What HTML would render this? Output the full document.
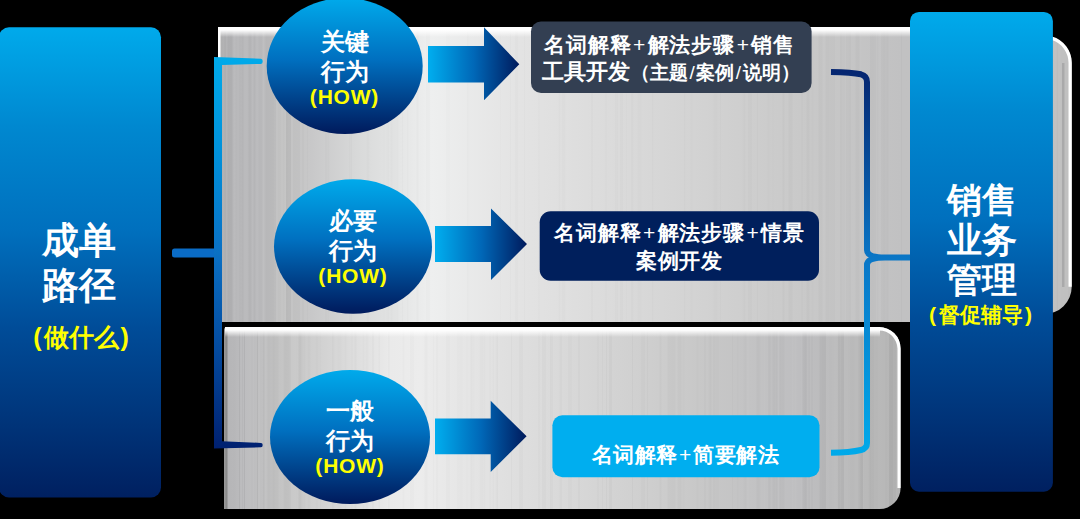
<!DOCTYPE html>
<html><head><meta charset="utf-8">
<style>
html,body{margin:0;padding:0;background:#000;}
body{width:1080px;height:519px;position:relative;overflow:hidden;font-family:"Liberation Sans",sans-serif;}
svg{position:absolute;left:0;top:0;}
.t{position:absolute;color:#fff;font-weight:bold;text-align:center;white-space:nowrap;}
.y{color:#ffff00;}
.c24{font-size:24px;line-height:30px;}
.how{font-size:21px;line-height:24px;letter-spacing:0.8px;}
.p{margin:0 2px;}
.p2{margin:0 2.5px;}
.pl{margin:0 1.5px;font-weight:normal;}
.sl{margin:0 1.5px;font-weight:normal;}
</style></head><body>
<svg width="1080" height="519" viewBox="0 0 1080 519">
<defs>
  <linearGradient id="gBox" x1="0" y1="0" x2="0" y2="1">
    <stop offset="0" stop-color="#00aaeb"/>
    <stop offset="0.21" stop-color="#0088d0"/>
    <stop offset="0.43" stop-color="#0070be"/>
    <stop offset="0.64" stop-color="#004c98"/>
    <stop offset="0.85" stop-color="#003378"/>
    <stop offset="1" stop-color="#002060"/>
  </linearGradient>
  <linearGradient id="gEl" x1="0" y1="0" x2="0" y2="1">
    <stop offset="0" stop-color="#00aaeb"/>
    <stop offset="0.45" stop-color="#0070c0"/>
    <stop offset="1" stop-color="#001a5c"/>
  </linearGradient>
  <linearGradient id="gAr" x1="0" y1="0" x2="1" y2="0">
    <stop offset="0" stop-color="#00aeef"/>
    <stop offset="0.5" stop-color="#0068b8"/>
    <stop offset="1" stop-color="#001a5c"/>
  </linearGradient>
  <linearGradient id="gGray" gradientUnits="userSpaceOnUse" x1="218" y1="0" x2="1072" y2="0">
    <stop offset="0" stop-color="#acacac"/>
    <stop offset="0.01" stop-color="#b6b6b8"/>
    <stop offset="0.05" stop-color="#bcbcbe"/>
    <stop offset="0.075" stop-color="#c2c2c2"/>
    <stop offset="0.11" stop-color="#c8c8c9"/>
    <stop offset="0.167" stop-color="#d9dada"/>
    <stop offset="0.25" stop-color="#eeefef"/>
    <stop offset="0.354" stop-color="#e3e3e3"/>
    <stop offset="0.495" stop-color="#d8d8d8"/>
    <stop offset="0.682" stop-color="#c9c9c9"/>
    <stop offset="0.80" stop-color="#c1c1c2"/>
    <stop offset="1" stop-color="#c0c0c0"/>
  </linearGradient>
  <linearGradient id="gGray2" gradientUnits="userSpaceOnUse" x1="224" y1="0" x2="901" y2="0">
    <stop offset="0" stop-color="#a0a0a0"/>
    <stop offset="0.004" stop-color="#909090"/>
    <stop offset="0.006" stop-color="#b4b4b6"/>
    <stop offset="0.03" stop-color="#bbbbbd"/>
    <stop offset="0.084" stop-color="#c4c4c4"/>
    <stop offset="0.172" stop-color="#d8d8d8"/>
    <stop offset="0.245" stop-color="#eaeaea"/>
    <stop offset="0.29" stop-color="#ececec"/>
    <stop offset="0.41" stop-color="#e0e0e0"/>
    <stop offset="0.585" stop-color="#d2d2d2"/>
    <stop offset="0.70" stop-color="#c8c8c8"/>
    <stop offset="0.85" stop-color="#bebec0"/>
    <stop offset="0.95" stop-color="#b8b8b8"/>
    <stop offset="1" stop-color="#b4b4b4"/>
  </linearGradient>
  <linearGradient id="gHi" x1="0" y1="0" x2="0" y2="1">
    <stop offset="0" stop-color="#ffffff" stop-opacity="1"/>
    <stop offset="1" stop-color="#ffffff" stop-opacity="0"/>
  </linearGradient>
  <linearGradient id="gBrL" gradientUnits="userSpaceOnUse" x1="0" y1="57" x2="0" y2="449">
    <stop offset="0" stop-color="#00aaea"/>
    <stop offset="0.25" stop-color="#0090da"/>
    <stop offset="0.5" stop-color="#0a70c4"/>
    <stop offset="0.75" stop-color="#044a9e"/>
    <stop offset="1" stop-color="#002070"/>
  </linearGradient>
  <linearGradient id="gBrR" gradientUnits="userSpaceOnUse" x1="0" y1="70" x2="0" y2="456">
    <stop offset="0" stop-color="#052570"/>
    <stop offset="0.5" stop-color="#0a78c8"/>
    <stop offset="1" stop-color="#00aaea"/>
  </linearGradient>
  <clipPath id="clipTop"><path d="M218 27 H1044 V36.2 A27.2 27.2 0 0 1 1071.7 63.2 V286.8 A27.2 27.2 0 0 1 1044 314 V322 H218 Z"/></clipPath>
  <clipPath id="clipBot"><path d="M227 327 H879 A21.6 21.6 0 0 1 900.6 348.6 V488 A21 21 0 0 1 879.6 509 H224 V330 A3 3 0 0 1 227 327 Z"/></clipPath>
</defs>

<!-- left box -->
<rect x="-1" y="27.2" width="162" height="470.3" rx="10" fill="url(#gBox)"/>

<!-- top gray panel -->
<path d="M218 27 H1044 V36.2 A27.2 27.2 0 0 1 1071.7 63.2 V286.8 A27.2 27.2 0 0 1 1044 314 V322 H218 Z" fill="url(#gGray)"/>
<g clip-path="url(#clipTop)">
<rect x="218" y="27" width="1.5" height="295" fill="#fff" opacity="0.045"/>
<rect x="219.5" y="27" width="2" height="295" fill="#fff" opacity="0.015"/>
<rect x="221.5" y="27" width="1" height="295" fill="#fff" opacity="0.032"/>
<rect x="222.5" y="27" width="1" height="295" fill="#000" opacity="0.013"/>
<rect x="223.5" y="27" width="1" height="295" fill="#fff" opacity="0.041"/>
<rect x="224.5" y="27" width="1" height="295" fill="#000" opacity="0.046"/>
<rect x="225.5" y="27" width="2" height="295" fill="#000" opacity="0.008"/>
<rect x="227.5" y="27" width="1" height="295" fill="#000" opacity="0.041"/>
<rect x="228.5" y="27" width="2" height="295" fill="#000" opacity="0.044"/>
<rect x="230.5" y="27" width="2" height="295" fill="#000" opacity="0.038"/>
<rect x="232.5" y="27" width="1" height="295" fill="#fff" opacity="0.013"/>
<rect x="233.5" y="27" width="2" height="295" fill="#fff" opacity="0.045"/>
<rect x="235.5" y="27" width="2" height="295" fill="#fff" opacity="0.009"/>
<rect x="237.5" y="27" width="1" height="295" fill="#fff" opacity="0.048"/>
<rect x="239.5" y="27" width="1" height="295" fill="#000" opacity="0.021"/>
<rect x="241.5" y="27" width="2" height="295" fill="#000" opacity="0.019"/>
<rect x="243.5" y="27" width="4" height="295" fill="#fff" opacity="0.018"/>
<rect x="247.5" y="27" width="1" height="295" fill="#fff" opacity="0.008"/>
<rect x="248.5" y="27" width="3" height="295" fill="#000" opacity="0.031"/>
<rect x="253.5" y="27" width="2" height="295" fill="#000" opacity="0.029"/>
<rect x="258.5" y="27" width="4" height="295" fill="#000" opacity="0.019"/>
<rect x="262.5" y="27" width="2" height="295" fill="#fff" opacity="0.042"/>
<rect x="264.5" y="27" width="1.5" height="295" fill="#000" opacity="0.020"/>
<rect x="266" y="27" width="4" height="295" fill="#000" opacity="0.032"/>
<rect x="270" y="27" width="4" height="295" fill="#000" opacity="0.026"/>
<rect x="274" y="27" width="2" height="295" fill="#000" opacity="0.020"/>
<rect x="276" y="27" width="2" height="295" fill="#fff" opacity="0.038"/>
<rect x="281" y="27" width="2" height="295" fill="#fff" opacity="0.048"/>
<rect x="284" y="27" width="1" height="295" fill="#fff" opacity="0.026"/>
<rect x="285" y="27" width="1" height="295" fill="#fff" opacity="0.043"/>
<rect x="286" y="27" width="2" height="295" fill="#000" opacity="0.046"/>
<rect x="288" y="27" width="3" height="295" fill="#000" opacity="0.042"/>
<rect x="293" y="27" width="4" height="295" fill="#000" opacity="0.019"/>
<rect x="297" y="27" width="3" height="295" fill="#000" opacity="0.015"/>
<rect x="302" y="27" width="2" height="295" fill="#000" opacity="0.013"/>
<rect x="304" y="27" width="1" height="295" fill="#fff" opacity="0.013"/>
<rect x="307" y="27" width="1" height="295" fill="#000" opacity="0.013"/>
<rect x="311" y="27" width="2" height="295" fill="#fff" opacity="0.015"/>
<rect x="325" y="27" width="2" height="295" fill="#000" opacity="0.011"/>
<rect x="327" y="27" width="1" height="295" fill="#000" opacity="0.008"/>
<rect x="328" y="27" width="1.5" height="295" fill="#000" opacity="0.011"/>
<rect x="337.5" y="27" width="1" height="295" fill="#fff" opacity="0.010"/>
<rect x="347" y="27" width="2" height="295" fill="#fff" opacity="0.014"/>
<rect x="349" y="27" width="1" height="295" fill="#000" opacity="0.013"/>
<rect x="350" y="27" width="1" height="295" fill="#000" opacity="0.008"/>
<rect x="351" y="27" width="1" height="295" fill="#000" opacity="0.015"/>
<rect x="360" y="27" width="1.5" height="295" fill="#fff" opacity="0.014"/>
<rect x="361.5" y="27" width="3" height="295" fill="#fff" opacity="0.011"/>
<rect x="366.5" y="27" width="3" height="295" fill="#000" opacity="0.013"/>
<rect x="369.5" y="27" width="4" height="295" fill="#fff" opacity="0.008"/>
<rect x="383.5" y="27" width="1" height="295" fill="#000" opacity="0.009"/>
<rect x="386.5" y="27" width="1" height="295" fill="#000" opacity="0.012"/>
<rect x="387.5" y="27" width="2" height="295" fill="#000" opacity="0.010"/>
<rect x="389.5" y="27" width="1" height="295" fill="#fff" opacity="0.013"/>
<rect x="390.5" y="27" width="2" height="295" fill="#000" opacity="0.014"/>
<rect x="392.5" y="27" width="4" height="295" fill="#000" opacity="0.009"/>
<rect x="396.5" y="27" width="2" height="295" fill="#000" opacity="0.011"/>
<rect x="398.5" y="27" width="1.5" height="295" fill="#fff" opacity="0.014"/>
<rect x="402" y="27" width="1" height="295" fill="#000" opacity="0.012"/>
<rect x="403" y="27" width="2" height="295" fill="#fff" opacity="0.015"/>
<rect x="407" y="27" width="1.5" height="295" fill="#000" opacity="0.012"/>
<rect x="416.5" y="27" width="2" height="295" fill="#000" opacity="0.014"/>
<rect x="424.5" y="27" width="1.5" height="295" fill="#fff" opacity="0.014"/>
<rect x="426" y="27" width="4" height="295" fill="#000" opacity="0.012"/>
<rect x="434" y="27" width="1.5" height="295" fill="#fff" opacity="0.012"/>
<rect x="435.5" y="27" width="1.5" height="295" fill="#fff" opacity="0.008"/>
<rect x="442" y="27" width="4" height="295" fill="#fff" opacity="0.015"/>
<rect x="446" y="27" width="4" height="295" fill="#000" opacity="0.009"/>
<rect x="450" y="27" width="1" height="295" fill="#fff" opacity="0.010"/>
<rect x="451" y="27" width="3" height="295" fill="#fff" opacity="0.009"/>
<rect x="456.5" y="27" width="1" height="295" fill="#fff" opacity="0.009"/>
<rect x="464" y="27" width="3" height="295" fill="#fff" opacity="0.015"/>
<rect x="467" y="27" width="1.5" height="295" fill="#000" opacity="0.013"/>
<rect x="468.5" y="27" width="1" height="295" fill="#000" opacity="0.008"/>
<rect x="472.5" y="27" width="2" height="295" fill="#fff" opacity="0.010"/>
<rect x="474.5" y="27" width="2" height="295" fill="#fff" opacity="0.012"/>
<rect x="476.5" y="27" width="1.5" height="295" fill="#fff" opacity="0.009"/>
<rect x="478" y="27" width="1" height="295" fill="#fff" opacity="0.010"/>
<rect x="479" y="27" width="1" height="295" fill="#fff" opacity="0.012"/>
<rect x="489" y="27" width="4" height="295" fill="#fff" opacity="0.011"/>
<rect x="499" y="27" width="1" height="295" fill="#fff" opacity="0.012"/>
<rect x="500" y="27" width="1" height="295" fill="#000" opacity="0.008"/>
<rect x="504" y="27" width="2" height="295" fill="#fff" opacity="0.012"/>
<rect x="506" y="27" width="3" height="295" fill="#fff" opacity="0.010"/>
<rect x="510" y="27" width="1" height="295" fill="#000" opacity="0.011"/>
<rect x="511" y="27" width="4" height="295" fill="#fff" opacity="0.011"/>
<rect x="515" y="27" width="3" height="295" fill="#000" opacity="0.010"/>
<rect x="518" y="27" width="3" height="295" fill="#fff" opacity="0.010"/>
<rect x="521" y="27" width="2" height="295" fill="#fff" opacity="0.012"/>
<rect x="524" y="27" width="1" height="295" fill="#000" opacity="0.011"/>
<rect x="528.5" y="27" width="2" height="295" fill="#fff" opacity="0.008"/>
<rect x="530.5" y="27" width="1" height="295" fill="#fff" opacity="0.010"/>
<rect x="531.5" y="27" width="1.5" height="295" fill="#fff" opacity="0.010"/>
<rect x="538" y="27" width="2" height="295" fill="#000" opacity="0.009"/>
<rect x="541" y="27" width="1" height="295" fill="#fff" opacity="0.009"/>
<rect x="558.5" y="27" width="2" height="295" fill="#000" opacity="0.011"/>
<rect x="561.5" y="27" width="4" height="295" fill="#000" opacity="0.010"/>
<rect x="567.5" y="27" width="4" height="295" fill="#fff" opacity="0.009"/>
<rect x="572.5" y="27" width="2" height="295" fill="#fff" opacity="0.011"/>
<rect x="584.5" y="27" width="1.5" height="295" fill="#fff" opacity="0.010"/>
<rect x="586" y="27" width="1" height="295" fill="#fff" opacity="0.008"/>
<rect x="591" y="27" width="2" height="295" fill="#000" opacity="0.010"/>
<rect x="596" y="27" width="1" height="295" fill="#fff" opacity="0.010"/>
<rect x="597" y="27" width="1" height="295" fill="#fff" opacity="0.011"/>
<rect x="602" y="27" width="1" height="295" fill="#fff" opacity="0.011"/>
<rect x="605" y="27" width="2" height="295" fill="#000" opacity="0.008"/>
<rect x="615" y="27" width="1.5" height="295" fill="#000" opacity="0.010"/>
<rect x="616.5" y="27" width="1.5" height="295" fill="#000" opacity="0.012"/>
<rect x="620" y="27" width="3" height="295" fill="#000" opacity="0.012"/>
<rect x="626" y="27" width="1" height="295" fill="#000" opacity="0.009"/>
<rect x="631" y="27" width="1" height="295" fill="#000" opacity="0.010"/>
<rect x="632" y="27" width="1.5" height="295" fill="#000" opacity="0.011"/>
<rect x="637.5" y="27" width="4" height="295" fill="#000" opacity="0.009"/>
<rect x="641.5" y="27" width="2" height="295" fill="#fff" opacity="0.008"/>
<rect x="648" y="27" width="2" height="295" fill="#fff" opacity="0.010"/>
<rect x="652" y="27" width="1.5" height="295" fill="#000" opacity="0.010"/>
<rect x="661.5" y="27" width="2" height="295" fill="#fff" opacity="0.009"/>
<rect x="665.5" y="27" width="1.5" height="295" fill="#fff" opacity="0.012"/>
<rect x="667" y="27" width="2" height="295" fill="#fff" opacity="0.010"/>
<rect x="671.5" y="27" width="1" height="295" fill="#fff" opacity="0.011"/>
<rect x="684" y="27" width="1.5" height="295" fill="#000" opacity="0.011"/>
<rect x="686.5" y="27" width="2" height="295" fill="#fff" opacity="0.011"/>
<rect x="690.5" y="27" width="2" height="295" fill="#000" opacity="0.009"/>
<rect x="699.5" y="27" width="4" height="295" fill="#fff" opacity="0.009"/>
<rect x="705.5" y="27" width="1" height="295" fill="#fff" opacity="0.012"/>
<rect x="712" y="27" width="1.5" height="295" fill="#fff" opacity="0.012"/>
<rect x="713.5" y="27" width="4" height="295" fill="#000" opacity="0.009"/>
<rect x="720" y="27" width="1" height="295" fill="#000" opacity="0.010"/>
<rect x="736.5" y="27" width="1.5" height="295" fill="#fff" opacity="0.011"/>
<rect x="740" y="27" width="1" height="295" fill="#fff" opacity="0.011"/>
<rect x="742.5" y="27" width="1" height="295" fill="#000" opacity="0.012"/>
<rect x="743.5" y="27" width="2" height="295" fill="#000" opacity="0.010"/>
<rect x="748" y="27" width="4" height="295" fill="#000" opacity="0.012"/>
<rect x="757" y="27" width="1" height="295" fill="#000" opacity="0.010"/>
<rect x="758" y="27" width="2" height="295" fill="#fff" opacity="0.008"/>
<rect x="767.5" y="27" width="2" height="295" fill="#000" opacity="0.008"/>
<rect x="772.5" y="27" width="1" height="295" fill="#000" opacity="0.011"/>
<rect x="782.5" y="27" width="2" height="295" fill="#000" opacity="0.014"/>
<rect x="784.5" y="27" width="2" height="295" fill="#fff" opacity="0.010"/>
<rect x="786.5" y="27" width="2" height="295" fill="#fff" opacity="0.013"/>
<rect x="788.5" y="27" width="4" height="295" fill="#000" opacity="0.019"/>
<rect x="801.5" y="27" width="1" height="295" fill="#000" opacity="0.019"/>
<rect x="806.5" y="27" width="3" height="295" fill="#000" opacity="0.019"/>
<rect x="811.5" y="27" width="2" height="295" fill="#000" opacity="0.009"/>
<rect x="813.5" y="27" width="2" height="295" fill="#fff" opacity="0.012"/>
<rect x="815.5" y="27" width="3" height="295" fill="#fff" opacity="0.017"/>
<rect x="818.5" y="27" width="2" height="295" fill="#000" opacity="0.016"/>
<rect x="820.5" y="27" width="2" height="295" fill="#000" opacity="0.017"/>
<rect x="825.5" y="27" width="4" height="295" fill="#000" opacity="0.017"/>
<rect x="829.5" y="27" width="1.5" height="295" fill="#000" opacity="0.011"/>
<rect x="831" y="27" width="4" height="295" fill="#000" opacity="0.012"/>
<rect x="840" y="27" width="2" height="295" fill="#000" opacity="0.017"/>
<rect x="842" y="27" width="3" height="295" fill="#000" opacity="0.009"/>
<rect x="846" y="27" width="3" height="295" fill="#000" opacity="0.012"/>
<rect x="849" y="27" width="2" height="295" fill="#000" opacity="0.014"/>
<rect x="855.5" y="27" width="2" height="295" fill="#000" opacity="0.015"/>
<rect x="857.5" y="27" width="2" height="295" fill="#000" opacity="0.018"/>
<rect x="859.5" y="27" width="1.5" height="295" fill="#fff" opacity="0.019"/>
<rect x="870" y="27" width="4" height="295" fill="#000" opacity="0.015"/>
<rect x="874" y="27" width="2" height="295" fill="#000" opacity="0.012"/>
<rect x="876" y="27" width="1" height="295" fill="#fff" opacity="0.017"/>
<rect x="877" y="27" width="1" height="295" fill="#000" opacity="0.008"/>
<rect x="878" y="27" width="1" height="295" fill="#fff" opacity="0.013"/>
<rect x="879" y="27" width="2" height="295" fill="#fff" opacity="0.020"/>
<rect x="881" y="27" width="2" height="295" fill="#000" opacity="0.012"/>
<rect x="883" y="27" width="1" height="295" fill="#000" opacity="0.017"/>
<rect x="884" y="27" width="1" height="295" fill="#000" opacity="0.014"/>
<rect x="885" y="27" width="2" height="295" fill="#000" opacity="0.010"/>
<rect x="887" y="27" width="1.5" height="295" fill="#000" opacity="0.015"/>
<rect x="892.5" y="27" width="1.5" height="295" fill="#fff" opacity="0.015"/>
<rect x="897" y="27" width="2" height="295" fill="#fff" opacity="0.016"/>
<rect x="901" y="27" width="1" height="295" fill="#000" opacity="0.020"/>
<rect x="913" y="27" width="1.5" height="295" fill="#fff" opacity="0.010"/>
<rect x="918.5" y="27" width="1" height="295" fill="#fff" opacity="0.009"/>
<rect x="919.5" y="27" width="3" height="295" fill="#000" opacity="0.008"/>
<rect x="922.5" y="27" width="1.5" height="295" fill="#000" opacity="0.017"/>
<rect x="924" y="27" width="2" height="295" fill="#fff" opacity="0.020"/>
<rect x="926" y="27" width="2" height="295" fill="#000" opacity="0.017"/>
<rect x="928" y="27" width="2" height="295" fill="#fff" opacity="0.010"/>
<rect x="930" y="27" width="4" height="295" fill="#000" opacity="0.018"/>
<rect x="934" y="27" width="1" height="295" fill="#000" opacity="0.018"/>
<rect x="935" y="27" width="3" height="295" fill="#000" opacity="0.009"/>
<rect x="938" y="27" width="1" height="295" fill="#000" opacity="0.010"/>
<rect x="940.5" y="27" width="1.5" height="295" fill="#000" opacity="0.012"/>
<rect x="942" y="27" width="1.5" height="295" fill="#fff" opacity="0.011"/>
<rect x="943.5" y="27" width="2" height="295" fill="#fff" opacity="0.015"/>
<rect x="945.5" y="27" width="4" height="295" fill="#fff" opacity="0.010"/>
<rect x="949.5" y="27" width="2" height="295" fill="#fff" opacity="0.017"/>
<rect x="953.5" y="27" width="3" height="295" fill="#000" opacity="0.017"/>
<rect x="959.5" y="27" width="2" height="295" fill="#fff" opacity="0.010"/>
<rect x="961.5" y="27" width="3" height="295" fill="#fff" opacity="0.015"/>
<rect x="964.5" y="27" width="2" height="295" fill="#000" opacity="0.018"/>
<rect x="966.5" y="27" width="2" height="295" fill="#000" opacity="0.015"/>
<rect x="970.5" y="27" width="1.5" height="295" fill="#000" opacity="0.008"/>
<rect x="972" y="27" width="3" height="295" fill="#fff" opacity="0.010"/>
<rect x="975" y="27" width="3" height="295" fill="#000" opacity="0.010"/>
<rect x="978" y="27" width="3" height="295" fill="#000" opacity="0.010"/>
<rect x="983" y="27" width="2" height="295" fill="#000" opacity="0.015"/>
<rect x="985" y="27" width="3" height="295" fill="#000" opacity="0.014"/>
<rect x="994" y="27" width="1.5" height="295" fill="#fff" opacity="0.020"/>
<rect x="997.5" y="27" width="2" height="295" fill="#000" opacity="0.012"/>
<rect x="999.5" y="27" width="1" height="295" fill="#000" opacity="0.013"/>
<rect x="1000.5" y="27" width="2" height="295" fill="#000" opacity="0.016"/>
<rect x="1007.5" y="27" width="1" height="295" fill="#fff" opacity="0.010"/>
<rect x="1013.5" y="27" width="2" height="295" fill="#000" opacity="0.009"/>
<rect x="1015.5" y="27" width="4" height="295" fill="#000" opacity="0.018"/>
<rect x="1021" y="27" width="1.5" height="295" fill="#000" opacity="0.015"/>
<rect x="1024.5" y="27" width="4" height="295" fill="#fff" opacity="0.015"/>
<rect x="1028.5" y="27" width="1" height="295" fill="#000" opacity="0.016"/>
<rect x="1033.5" y="27" width="1.5" height="295" fill="#fff" opacity="0.014"/>
<rect x="1035" y="27" width="4" height="295" fill="#fff" opacity="0.019"/>
<rect x="1039" y="27" width="1" height="295" fill="#000" opacity="0.019"/>
<rect x="1040" y="27" width="3" height="295" fill="#fff" opacity="0.011"/>
<rect x="1054" y="27" width="2" height="295" fill="#fff" opacity="0.019"/>
<rect x="1056" y="27" width="1" height="295" fill="#fff" opacity="0.011"/>
<rect x="1057" y="27" width="1" height="295" fill="#000" opacity="0.014"/>
<rect x="1058" y="27" width="2" height="295" fill="#fff" opacity="0.019"/>
<rect x="1060" y="27" width="1" height="295" fill="#fff" opacity="0.018"/>
<rect x="1061" y="27" width="3" height="295" fill="#fff" opacity="0.008"/>
<rect x="1064" y="27" width="4" height="295" fill="#fff" opacity="0.011"/>
<rect x="1068" y="27" width="2" height="295" fill="#000" opacity="0.017"/>
<rect x="1070" y="27" width="4" height="295" fill="#000" opacity="0.018"/>
</g>
<rect x="218" y="27" width="830" height="3" fill="#fff"/>
<rect x="218" y="30" width="830" height="7" fill="url(#gHi)"/>
<rect x="218" y="27" width="2.5" height="35" fill="#fff"/>
<path d="M1052 36.4 A27.2 27.2 0 0 1 1071.7 63.2 V286.8 L1068.5 286.8 V63.2 A24 24 0 0 0 1052 40 Z" fill="#fff"/>
<rect x="1062" y="63" width="2.5" height="224" fill="#a9a9aa"/>
<!-- bottom gray panel -->
<path d="M227 327 H879 A21.6 21.6 0 0 1 900.6 348.6 V488 A21 21 0 0 1 879.6 509 H224 V330 A3 3 0 0 1 227 327 Z" fill="url(#gGray2)"/>
<g clip-path="url(#clipBot)">
<rect x="224" y="327" width="4" height="182" fill="#000" opacity="0.034"/>
<rect x="228" y="327" width="2" height="182" fill="#fff" opacity="0.038"/>
<rect x="230" y="327" width="3" height="182" fill="#fff" opacity="0.019"/>
<rect x="233" y="327" width="1" height="182" fill="#fff" opacity="0.011"/>
<rect x="234" y="327" width="2" height="182" fill="#fff" opacity="0.012"/>
<rect x="236" y="327" width="3" height="182" fill="#fff" opacity="0.024"/>
<rect x="239" y="327" width="1" height="182" fill="#000" opacity="0.039"/>
<rect x="240" y="327" width="2" height="182" fill="#fff" opacity="0.040"/>
<rect x="242" y="327" width="1" height="182" fill="#000" opacity="0.010"/>
<rect x="243" y="327" width="1" height="182" fill="#fff" opacity="0.026"/>
<rect x="244" y="327" width="1" height="182" fill="#000" opacity="0.044"/>
<rect x="245" y="327" width="1.5" height="182" fill="#fff" opacity="0.045"/>
<rect x="246.5" y="327" width="1.5" height="182" fill="#fff" opacity="0.041"/>
<rect x="248" y="327" width="3" height="182" fill="#fff" opacity="0.031"/>
<rect x="253" y="327" width="1" height="182" fill="#fff" opacity="0.041"/>
<rect x="254" y="327" width="3" height="182" fill="#fff" opacity="0.013"/>
<rect x="257" y="327" width="1" height="182" fill="#000" opacity="0.043"/>
<rect x="258" y="327" width="2" height="182" fill="#fff" opacity="0.035"/>
<rect x="263" y="327" width="1.5" height="182" fill="#000" opacity="0.024"/>
<rect x="264.5" y="327" width="2" height="182" fill="#fff" opacity="0.038"/>
<rect x="267.5" y="327" width="3" height="182" fill="#000" opacity="0.015"/>
<rect x="270.5" y="327" width="2" height="182" fill="#000" opacity="0.012"/>
<rect x="272.5" y="327" width="2" height="182" fill="#000" opacity="0.027"/>
<rect x="274.5" y="327" width="4" height="182" fill="#000" opacity="0.019"/>
<rect x="283.5" y="327" width="1" height="182" fill="#000" opacity="0.017"/>
<rect x="284.5" y="327" width="4" height="182" fill="#000" opacity="0.028"/>
<rect x="288.5" y="327" width="2" height="182" fill="#000" opacity="0.025"/>
<rect x="290.5" y="327" width="4" height="182" fill="#fff" opacity="0.035"/>
<rect x="294.5" y="327" width="1" height="182" fill="#fff" opacity="0.041"/>
<rect x="295.5" y="327" width="2" height="182" fill="#fff" opacity="0.010"/>
<rect x="298.5" y="327" width="3" height="182" fill="#000" opacity="0.040"/>
<rect x="301.5" y="327" width="2" height="182" fill="#000" opacity="0.011"/>
<rect x="303.5" y="327" width="2" height="182" fill="#000" opacity="0.013"/>
<rect x="305.5" y="327" width="1" height="182" fill="#fff" opacity="0.014"/>
<rect x="307.5" y="327" width="3" height="182" fill="#000" opacity="0.013"/>
<rect x="312.5" y="327" width="3" height="182" fill="#fff" opacity="0.012"/>
<rect x="315.5" y="327" width="3" height="182" fill="#000" opacity="0.012"/>
<rect x="318.5" y="327" width="1" height="182" fill="#fff" opacity="0.013"/>
<rect x="319.5" y="327" width="1.5" height="182" fill="#000" opacity="0.009"/>
<rect x="321" y="327" width="3" height="182" fill="#fff" opacity="0.013"/>
<rect x="328.5" y="327" width="2" height="182" fill="#fff" opacity="0.010"/>
<rect x="332" y="327" width="1" height="182" fill="#000" opacity="0.015"/>
<rect x="333" y="327" width="1.5" height="182" fill="#000" opacity="0.013"/>
<rect x="334.5" y="327" width="2" height="182" fill="#fff" opacity="0.014"/>
<rect x="337.5" y="327" width="4" height="182" fill="#000" opacity="0.009"/>
<rect x="341.5" y="327" width="1.5" height="182" fill="#fff" opacity="0.008"/>
<rect x="343" y="327" width="1.5" height="182" fill="#fff" opacity="0.010"/>
<rect x="344.5" y="327" width="2" height="182" fill="#000" opacity="0.012"/>
<rect x="351" y="327" width="2" height="182" fill="#000" opacity="0.009"/>
<rect x="354.5" y="327" width="2" height="182" fill="#000" opacity="0.014"/>
<rect x="358.5" y="327" width="3" height="182" fill="#fff" opacity="0.008"/>
<rect x="362.5" y="327" width="2" height="182" fill="#000" opacity="0.013"/>
<rect x="365.5" y="327" width="3" height="182" fill="#000" opacity="0.013"/>
<rect x="372" y="327" width="2" height="182" fill="#000" opacity="0.014"/>
<rect x="377" y="327" width="1.5" height="182" fill="#fff" opacity="0.013"/>
<rect x="378.5" y="327" width="1.5" height="182" fill="#000" opacity="0.015"/>
<rect x="388" y="327" width="1" height="182" fill="#000" opacity="0.014"/>
<rect x="389" y="327" width="1" height="182" fill="#000" opacity="0.012"/>
<rect x="390" y="327" width="3" height="182" fill="#fff" opacity="0.014"/>
<rect x="397" y="327" width="1.5" height="182" fill="#fff" opacity="0.012"/>
<rect x="402.5" y="327" width="2" height="182" fill="#000" opacity="0.010"/>
<rect x="404.5" y="327" width="4" height="182" fill="#fff" opacity="0.013"/>
<rect x="408.5" y="327" width="1.5" height="182" fill="#fff" opacity="0.010"/>
<rect x="410" y="327" width="4" height="182" fill="#000" opacity="0.010"/>
<rect x="416.5" y="327" width="4" height="182" fill="#fff" opacity="0.008"/>
<rect x="424.5" y="327" width="3" height="182" fill="#000" opacity="0.014"/>
<rect x="429.5" y="327" width="1" height="182" fill="#fff" opacity="0.014"/>
<rect x="430.5" y="327" width="1" height="182" fill="#fff" opacity="0.015"/>
<rect x="433" y="327" width="1" height="182" fill="#000" opacity="0.012"/>
<rect x="434" y="327" width="2" height="182" fill="#fff" opacity="0.015"/>
<rect x="436" y="327" width="2" height="182" fill="#000" opacity="0.010"/>
<rect x="439" y="327" width="2" height="182" fill="#fff" opacity="0.012"/>
<rect x="442" y="327" width="4" height="182" fill="#fff" opacity="0.008"/>
<rect x="446" y="327" width="4" height="182" fill="#000" opacity="0.011"/>
<rect x="457" y="327" width="1.5" height="182" fill="#000" opacity="0.009"/>
<rect x="458.5" y="327" width="1" height="182" fill="#000" opacity="0.009"/>
<rect x="459.5" y="327" width="1" height="182" fill="#000" opacity="0.010"/>
<rect x="460.5" y="327" width="2" height="182" fill="#000" opacity="0.009"/>
<rect x="466.5" y="327" width="1" height="182" fill="#000" opacity="0.012"/>
<rect x="467.5" y="327" width="2" height="182" fill="#fff" opacity="0.011"/>
<rect x="469.5" y="327" width="1" height="182" fill="#fff" opacity="0.010"/>
<rect x="470.5" y="327" width="1.5" height="182" fill="#000" opacity="0.014"/>
<rect x="472" y="327" width="1.5" height="182" fill="#000" opacity="0.008"/>
<rect x="473.5" y="327" width="1" height="182" fill="#000" opacity="0.009"/>
<rect x="479.5" y="327" width="4" height="182" fill="#000" opacity="0.010"/>
<rect x="483.5" y="327" width="2" height="182" fill="#000" opacity="0.010"/>
<rect x="489.5" y="327" width="1" height="182" fill="#000" opacity="0.016"/>
<rect x="490.5" y="327" width="2" height="182" fill="#fff" opacity="0.008"/>
<rect x="492.5" y="327" width="1.5" height="182" fill="#000" opacity="0.011"/>
<rect x="495.5" y="327" width="1" height="182" fill="#000" opacity="0.012"/>
<rect x="496.5" y="327" width="1.5" height="182" fill="#000" opacity="0.018"/>
<rect x="501" y="327" width="1" height="182" fill="#fff" opacity="0.013"/>
<rect x="511" y="327" width="1" height="182" fill="#000" opacity="0.019"/>
<rect x="519" y="327" width="2" height="182" fill="#000" opacity="0.014"/>
<rect x="521" y="327" width="2" height="182" fill="#000" opacity="0.016"/>
<rect x="527" y="327" width="2" height="182" fill="#fff" opacity="0.018"/>
<rect x="529" y="327" width="1.5" height="182" fill="#fff" opacity="0.010"/>
<rect x="532" y="327" width="1" height="182" fill="#fff" opacity="0.015"/>
<rect x="538" y="327" width="2" height="182" fill="#000" opacity="0.012"/>
<rect x="542" y="327" width="4" height="182" fill="#000" opacity="0.016"/>
<rect x="546" y="327" width="2" height="182" fill="#fff" opacity="0.015"/>
<rect x="548" y="327" width="2" height="182" fill="#fff" opacity="0.011"/>
<rect x="550" y="327" width="1" height="182" fill="#000" opacity="0.019"/>
<rect x="551" y="327" width="2" height="182" fill="#000" opacity="0.014"/>
<rect x="553" y="327" width="4" height="182" fill="#fff" opacity="0.016"/>
<rect x="558" y="327" width="1.5" height="182" fill="#fff" opacity="0.009"/>
<rect x="559.5" y="327" width="1" height="182" fill="#000" opacity="0.014"/>
<rect x="560.5" y="327" width="1.5" height="182" fill="#000" opacity="0.014"/>
<rect x="562" y="327" width="1" height="182" fill="#fff" opacity="0.017"/>
<rect x="564" y="327" width="4" height="182" fill="#fff" opacity="0.012"/>
<rect x="568" y="327" width="4" height="182" fill="#000" opacity="0.012"/>
<rect x="572" y="327" width="1" height="182" fill="#fff" opacity="0.013"/>
<rect x="573" y="327" width="1" height="182" fill="#fff" opacity="0.019"/>
<rect x="576" y="327" width="2" height="182" fill="#fff" opacity="0.017"/>
<rect x="578" y="327" width="2" height="182" fill="#000" opacity="0.017"/>
<rect x="583" y="327" width="4" height="182" fill="#fff" opacity="0.016"/>
<rect x="587" y="327" width="3" height="182" fill="#fff" opacity="0.011"/>
<rect x="591" y="327" width="2" height="182" fill="#fff" opacity="0.014"/>
<rect x="597" y="327" width="2" height="182" fill="#000" opacity="0.011"/>
<rect x="599" y="327" width="2" height="182" fill="#fff" opacity="0.018"/>
<rect x="602" y="327" width="1" height="182" fill="#000" opacity="0.014"/>
<rect x="603" y="327" width="3" height="182" fill="#fff" opacity="0.013"/>
<rect x="606" y="327" width="1" height="182" fill="#000" opacity="0.018"/>
<rect x="607" y="327" width="2" height="182" fill="#fff" opacity="0.014"/>
<rect x="609" y="327" width="3" height="182" fill="#000" opacity="0.018"/>
<rect x="618" y="327" width="2" height="182" fill="#fff" opacity="0.014"/>
<rect x="632" y="327" width="1" height="182" fill="#000" opacity="0.020"/>
<rect x="635" y="327" width="2" height="182" fill="#fff" opacity="0.011"/>
<rect x="637" y="327" width="4" height="182" fill="#fff" opacity="0.013"/>
<rect x="641" y="327" width="4" height="182" fill="#000" opacity="0.013"/>
<rect x="647" y="327" width="1" height="182" fill="#000" opacity="0.015"/>
<rect x="657" y="327" width="1" height="182" fill="#fff" opacity="0.017"/>
<rect x="658" y="327" width="1.5" height="182" fill="#fff" opacity="0.011"/>
<rect x="659.5" y="327" width="2" height="182" fill="#000" opacity="0.017"/>
<rect x="667.5" y="327" width="4" height="182" fill="#000" opacity="0.015"/>
<rect x="671.5" y="327" width="4" height="182" fill="#000" opacity="0.017"/>
<rect x="675.5" y="327" width="2" height="182" fill="#fff" opacity="0.009"/>
<rect x="677.5" y="327" width="4" height="182" fill="#000" opacity="0.016"/>
<rect x="681.5" y="327" width="1" height="182" fill="#fff" opacity="0.019"/>
<rect x="682.5" y="327" width="2" height="182" fill="#000" opacity="0.008"/>
<rect x="684.5" y="327" width="4" height="182" fill="#fff" opacity="0.017"/>
<rect x="689.5" y="327" width="3" height="182" fill="#fff" opacity="0.017"/>
<rect x="692.5" y="327" width="1" height="182" fill="#fff" opacity="0.013"/>
<rect x="693.5" y="327" width="2" height="182" fill="#fff" opacity="0.010"/>
<rect x="696.5" y="327" width="2" height="182" fill="#000" opacity="0.009"/>
<rect x="704" y="327" width="2" height="182" fill="#000" opacity="0.012"/>
<rect x="708.5" y="327" width="1" height="182" fill="#000" opacity="0.012"/>
<rect x="709.5" y="327" width="2" height="182" fill="#000" opacity="0.014"/>
<rect x="713" y="327" width="2" height="182" fill="#000" opacity="0.013"/>
<rect x="715" y="327" width="4" height="182" fill="#000" opacity="0.009"/>
<rect x="723" y="327" width="3" height="182" fill="#fff" opacity="0.014"/>
<rect x="732" y="327" width="1" height="182" fill="#000" opacity="0.010"/>
<rect x="735" y="327" width="2" height="182" fill="#fff" opacity="0.010"/>
<rect x="737" y="327" width="1.5" height="182" fill="#000" opacity="0.009"/>
<rect x="743.5" y="327" width="1" height="182" fill="#000" opacity="0.008"/>
<rect x="744.5" y="327" width="2" height="182" fill="#000" opacity="0.010"/>
<rect x="746.5" y="327" width="3" height="182" fill="#fff" opacity="0.019"/>
<rect x="753.5" y="327" width="3" height="182" fill="#fff" opacity="0.016"/>
<rect x="756.5" y="327" width="3" height="182" fill="#000" opacity="0.020"/>
<rect x="759.5" y="327" width="1" height="182" fill="#000" opacity="0.011"/>
<rect x="760.5" y="327" width="1.5" height="182" fill="#fff" opacity="0.009"/>
<rect x="764" y="327" width="1.5" height="182" fill="#fff" opacity="0.032"/>
<rect x="766.5" y="327" width="2" height="182" fill="#fff" opacity="0.012"/>
<rect x="768.5" y="327" width="1" height="182" fill="#000" opacity="0.036"/>
<rect x="769.5" y="327" width="2" height="182" fill="#000" opacity="0.012"/>
<rect x="772.5" y="327" width="2" height="182" fill="#000" opacity="0.022"/>
<rect x="774.5" y="327" width="2" height="182" fill="#000" opacity="0.016"/>
<rect x="776.5" y="327" width="1" height="182" fill="#000" opacity="0.024"/>
<rect x="777.5" y="327" width="2" height="182" fill="#fff" opacity="0.026"/>
<rect x="779.5" y="327" width="1" height="182" fill="#000" opacity="0.029"/>
<rect x="780.5" y="327" width="4" height="182" fill="#000" opacity="0.021"/>
<rect x="785.5" y="327" width="1" height="182" fill="#fff" opacity="0.011"/>
<rect x="786.5" y="327" width="4" height="182" fill="#fff" opacity="0.013"/>
<rect x="792" y="327" width="1.5" height="182" fill="#fff" opacity="0.037"/>
<rect x="793.5" y="327" width="1" height="182" fill="#fff" opacity="0.012"/>
<rect x="794.5" y="327" width="2" height="182" fill="#fff" opacity="0.031"/>
<rect x="796.5" y="327" width="2" height="182" fill="#fff" opacity="0.012"/>
<rect x="798.5" y="327" width="2" height="182" fill="#fff" opacity="0.008"/>
<rect x="800.5" y="327" width="2" height="182" fill="#fff" opacity="0.019"/>
<rect x="802.5" y="327" width="1" height="182" fill="#000" opacity="0.027"/>
<rect x="803.5" y="327" width="1" height="182" fill="#000" opacity="0.036"/>
<rect x="804.5" y="327" width="2" height="182" fill="#000" opacity="0.038"/>
<rect x="806.5" y="327" width="1" height="182" fill="#000" opacity="0.021"/>
<rect x="807.5" y="327" width="1" height="182" fill="#fff" opacity="0.033"/>
<rect x="808.5" y="327" width="1" height="182" fill="#000" opacity="0.039"/>
<rect x="809.5" y="327" width="2" height="182" fill="#fff" opacity="0.013"/>
<rect x="811.5" y="327" width="1" height="182" fill="#000" opacity="0.029"/>
<rect x="819.5" y="327" width="2" height="182" fill="#000" opacity="0.026"/>
<rect x="821.5" y="327" width="1.5" height="182" fill="#000" opacity="0.035"/>
<rect x="823" y="327" width="3" height="182" fill="#000" opacity="0.036"/>
<rect x="826" y="327" width="3" height="182" fill="#fff" opacity="0.023"/>
<rect x="832" y="327" width="2" height="182" fill="#fff" opacity="0.028"/>
<rect x="834" y="327" width="3" height="182" fill="#fff" opacity="0.033"/>
<rect x="837" y="327" width="1" height="182" fill="#fff" opacity="0.019"/>
<rect x="838" y="327" width="2" height="182" fill="#000" opacity="0.026"/>
<rect x="840" y="327" width="1" height="182" fill="#000" opacity="0.019"/>
<rect x="841" y="327" width="3" height="182" fill="#000" opacity="0.037"/>
<rect x="844" y="327" width="1.5" height="182" fill="#fff" opacity="0.031"/>
<rect x="845.5" y="327" width="3" height="182" fill="#fff" opacity="0.035"/>
<rect x="848.5" y="327" width="1.5" height="182" fill="#fff" opacity="0.017"/>
<rect x="850" y="327" width="1.5" height="182" fill="#fff" opacity="0.011"/>
<rect x="854.5" y="327" width="4" height="182" fill="#fff" opacity="0.033"/>
<rect x="858.5" y="327" width="1.5" height="182" fill="#000" opacity="0.016"/>
<rect x="860" y="327" width="1" height="182" fill="#000" opacity="0.033"/>
<rect x="861" y="327" width="2" height="182" fill="#000" opacity="0.039"/>
<rect x="863" y="327" width="1.5" height="182" fill="#fff" opacity="0.032"/>
<rect x="864.5" y="327" width="4" height="182" fill="#fff" opacity="0.020"/>
<rect x="868.5" y="327" width="1" height="182" fill="#fff" opacity="0.020"/>
<rect x="869.5" y="327" width="1.5" height="182" fill="#000" opacity="0.025"/>
<rect x="871" y="327" width="2" height="182" fill="#000" opacity="0.014"/>
<rect x="873" y="327" width="1" height="182" fill="#000" opacity="0.010"/>
<rect x="874" y="327" width="4" height="182" fill="#fff" opacity="0.010"/>
<rect x="878" y="327" width="3" height="182" fill="#fff" opacity="0.039"/>
<rect x="881" y="327" width="4" height="182" fill="#fff" opacity="0.038"/>
<rect x="887" y="327" width="2" height="182" fill="#fff" opacity="0.016"/>
<rect x="889" y="327" width="4" height="182" fill="#000" opacity="0.038"/>
<rect x="893" y="327" width="3" height="182" fill="#000" opacity="0.021"/>
<rect x="896" y="327" width="1.5" height="182" fill="#fff" opacity="0.023"/>
<rect x="897.5" y="327" width="2" height="182" fill="#fff" opacity="0.010"/>
<rect x="900.5" y="327" width="1" height="182" fill="#000" opacity="0.028"/>
</g>
<rect x="225" y="327" width="655" height="3" fill="#fff"/>
<rect x="225" y="330" width="655" height="7" fill="url(#gHi)"/>
<path d="M879 327 A21.6 21.6 0 0 1 900.6 348.6 V488 H897.5 V348.6 A18.5 18.5 0 0 0 879 330.5 Z" fill="#fff"/>

<!-- left bracket -->
<path d="M214 57 L261 58.8 Q262.7 58.8 262.7 61.3 Q262.7 63.9 261 63.9 L222 64.9 V441.2 L261 442.9 Q262.7 442.9 262.7 445.1 Q262.7 447.3 261 447.3 L214 448.6 Z" fill="url(#gBrL)"/>
<path d="M174.5 248.5 H214 V257.5 H174.5 Q172 257.5 172 255 V251 Q172 248.5 174.5 248.5 Z" fill="#0a6cc6"/>

<!-- ellipses -->
<ellipse cx="344.7" cy="66" rx="78" ry="68" fill="url(#gEl)"/>
<ellipse cx="353" cy="246.5" rx="79" ry="67.2" fill="url(#gEl)"/>
<ellipse cx="350" cy="437" rx="80" ry="67" fill="url(#gEl)"/>

<!-- arrows -->
<path d="M428 46 H484 V27.3 L519.3 64.2 L484 100.2 V82.5 H428 Z" fill="url(#gAr)"/>
<path d="M435 226 H491 V208.6 L527 244 L491 280 V262 H435 Z" fill="url(#gAr)"/>
<path d="M435 418.6 H490.7 V400.8 L526.6 436.3 L490.7 472.1 V454.2 H435 Z" fill="url(#gAr)"/>

<!-- text boxes -->
<rect x="531" y="21.5" width="280.6" height="71.5" rx="10" fill="#333f52"/>
<rect x="539.7" y="211.2" width="279.3" height="69.5" rx="11" fill="#001f5c"/>
<rect x="552.4" y="415.3" width="267.1" height="61.9" rx="10" fill="#00aeef"/>

<!-- right brace -->
<path d="M831 71.9 Q852 72.3 861 74.3 Q867 75.8 867 82 V250 Q867 257.5 885 257.5 H910 M885 257.5 Q867 257.5 867 265 V443 Q867 448.5 861 450 Q850 452.5 831 452.8" fill="none" stroke="url(#gBrR)" stroke-width="6"/>

<!-- right box -->
<rect x="910" y="11.9" width="142.9" height="479.8" rx="9" fill="url(#gBox)"/>
</svg>

<div class="t" style="left:-3px;width:164px;top:218px;font-size:37px;line-height:45px;">成单<br>路径</div>
<div class="t y" style="left:-1px;width:164px;top:322px;font-size:25px;line-height:30px;"><span class="p">(</span>做什么<span class="p">)</span></div>

<div class="t y how" style="left:266px;width:157px;top:84.5px;">(HOW)</div>
<div class="t c24" style="left:266px;width:157px;top:27px;">关键<br>行为</div>
<div class="t c24" style="left:274px;width:158px;top:206px;">必要<br>行为</div>
<div class="t y how" style="left:274px;width:158px;top:263.5px;">(HOW)</div>
<div class="t c24" style="left:270px;width:160px;top:396px;">一般<br>行为</div>
<div class="t y how" style="left:270px;width:160px;top:453.5px;">(HOW)</div>

<div class="t" style="left:529px;width:281px;top:32px;font-size:21px;line-height:26px;letter-spacing:0.9px;">名词解释<span class="pl">+</span>解法步骤<span class="pl">+</span>销售</div>
<div class="t" style="left:542px;top:59px;font-size:22px;line-height:26px;text-align:left;">工具开发<span style="font-size:19px;margin-left:1px;">（主题<span class="sl">/</span>案例<span class="sl">/</span>说明）</span></div>
<div class="t" style="left:540px;width:279px;top:219px;font-size:21px;line-height:28px;letter-spacing:0.8px;">名词解释<span class="pl">+</span>解法步骤<span class="pl">+</span>情景<br>案例开发</div>
<div class="t" style="left:552px;width:267px;top:441.5px;font-size:21px;line-height:26px;letter-spacing:0.5px;">名词解释<span class="pl">+</span>简要解法</div>

<div class="t" style="left:910px;width:143px;top:180px;font-size:35px;line-height:40px;">销售<br>业务<br>管理</div>
<div class="t y" style="left:909px;width:143px;top:302px;font-size:21px;line-height:26px;"><span class="p2">(</span>督促辅导<span class="p2">)</span></div>
</body></html>
